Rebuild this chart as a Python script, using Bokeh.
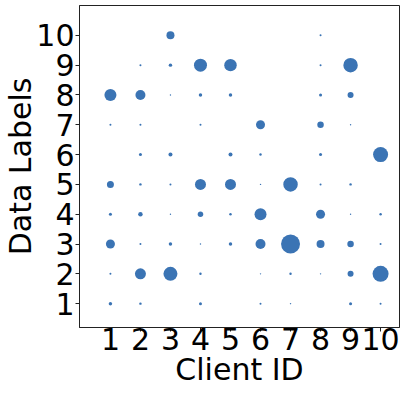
from bokeh.plotting import figure
from bokeh.models import ColumnDataSource, FixedTicker, Range1d
from bokeh.embed import file_html
from bokeh.resources import INLINE
import math

client_ids = [1, 2, 3, 4, 5, 6, 7, 8, 9, 10]
tick_values = [1, 2, 3, 4, 5, 6, 7, 8, 9, 10]

# sample counts per data label, one value per client (0 = none)
label_1 = [12, 6, 0, 9, 0, 4, 2, 0, 9, 4]
label_2 = [4, 121, 196, 6, 0, 2, 6, 2, 36, 256]
label_3 = [81, 4, 12, 2, 12, 100, 361, 64, 42, 4]
label_4 = [9, 20, 2, 30, 6, 144, 0, 81, 2, 6]
label_5 = [49, 6, 4, 121, 121, 2, 210, 4, 6, 0]
label_6 = [0, 9, 16, 0, 16, 6, 0, 9, 0, 225]
label_7 = [4, 4, 0, 4, 0, 81, 0, 42, 2, 0]
label_8 = [144, 100, 2, 12, 12, 0, 0, 9, 36, 0]
label_9 = [0, 4, 12, 169, 156, 0, 0, 4, 210, 0]
label_10 = [0, 0, 64, 0, 0, 0, 0, 4, 0, 0]

rows = [label_1, label_2, label_3, label_4, label_5,
        label_6, label_7, label_8, label_9, label_10]

xs, ys, counts = [], [], []
for lab, row in zip(tick_values, rows):
    for cid, c in zip(client_ids, row):
        if c > 0:
            xs.append(cid)
            ys.append(lab)
            counts.append(c)

source = ColumnDataSource(dict(x=xs, y=ys, count=counts,
                               size=[math.sqrt(c) for c in counts]))

p = figure(width=400, height=389, output_backend="svg", toolbar_location=None,
           x_range=Range1d(-0.03, 10.63), y_range=Range1d(0.2, 11.0),
           min_border_left=60, min_border_right=1, min_border_top=5,
           min_border_bottom=0)

p.scatter(x="x", y="y", size="size", source=source, marker="circle",
          fill_color="#3b74b4", line_color=None)

p.xgrid.visible = False
p.ygrid.visible = False
p.outline_line_color = "#222222"
p.outline_line_width = 1

p.xaxis.axis_label = "Client ID"
p.yaxis.axis_label = "Data Labels"
for ax in (p.xaxis[0], p.yaxis[0]):
    ax.ticker = FixedTicker(ticks=tick_values)
    ax.minor_tick_line_color = None
    ax.major_tick_out = 4
    ax.major_tick_in = 0
    ax.major_tick_line_color = "#222222"
    ax.axis_line_color = "#222222"
    ax.major_label_text_font = "DejaVu Sans"
    ax.major_label_text_font_size = "30px"
    ax.major_label_text_color = "black"
    ax.axis_label_text_font = "DejaVu Sans"
    ax.axis_label_text_font_size = "30px"
    ax.axis_label_text_font_style = "normal"
    ax.axis_label_text_color = "black"

p.xaxis.major_label_standoff = -4
p.xaxis.axis_label_standoff = -1
p.yaxis.major_label_standoff = 1
p.yaxis.axis_label_standoff = -5

open("out.html", "w").write(file_html(p, INLINE))
